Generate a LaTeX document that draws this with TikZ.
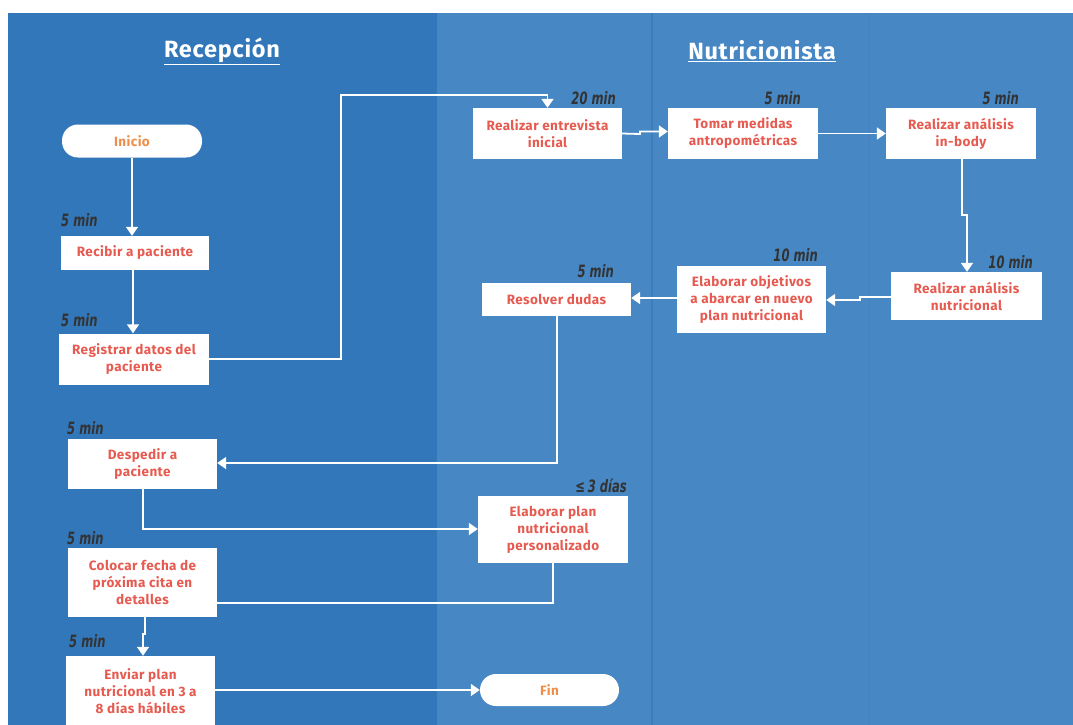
\documentclass[tikz,border=0pt]{standalone}
\usepackage{fontspec}
\setmainfont{Fira Sans}
\newfontfamily\nodefont[LetterSpace=3]{Fira Sans}
\newfontfamily\headfont[LetterSpace=3]{Fira Sans}
\newfontfamily\timefont[FakeStretch=0.68]{DejaVu Sans}
\usetikzlibrary{arrows.meta}
\definecolor{laneA}{HTML}{3277B9}
\definecolor{laneB}{HTML}{4687C4}
\definecolor{laneline}{HTML}{3C7DBC}
\definecolor{txtred}{HTML}{E65A50}
\definecolor{txtorange}{HTML}{EE8E48}
\definecolor{timegray}{HTML}{333333}
\tikzset{
  box/.style={draw=none, fill=white, rectangle, align=center, inner sep=2pt,
    font=\nodefont\fontsize{13.5}{17}\selectfont\bfseries, text=txtred},
  pill/.style={box, rounded corners=16pt, text=txtorange},
  conn/.style={draw=white, line width=1.8pt, -{Triangle[width=12pt,length=9pt]}},
  plainconn/.style={draw=white, line width=1.8pt},
  timeE/.style={anchor=east, inner sep=0pt, text=timegray, font=\timefont\fontsize{17}{17}\selectfont\bfseries\itshape},
  timeW/.style={timeE, anchor=west},
  lanehead/.style={text=white, font=\headfont\fontsize{23.5}{26}\selectfont\bfseries}
}
\begin{document}
\begin{tikzpicture}[x=1pt, y=-1pt]
\useasboundingbox (0,0) rectangle (1073,725);
\fill[white] (0,0) rectangle (1073,725);
\fill[laneA] (8,13) rectangle (437,725);
\fill[laneB] (437,13) rectangle (1073,725);
\draw[laneline, line width=1.2pt] (652,13) -- (652,725);
\draw[laneB!92!black, line width=0.6pt, opacity=0.35] (869,13) -- (869,725);

% headers
\node[lanehead] (hrec) at (222,51) {\underline{Recepción}};
\node[lanehead] (hnut) at (762,51) {\underline{Nutricionista}};

% nodes
\node[pill, minimum width=140pt, minimum height=33pt] (inicio) at (132,141) {Inicio};
\node[box, minimum width=148pt, minimum height=34pt] (recibir) at (135,253) {Recibir a paciente};
\node[box, minimum width=150pt, minimum height=51pt] (registrar) at (134,359) {Registrar datos del\\paciente};
\node[box, minimum width=149pt, minimum height=51pt] (entrevista) at (547.5,133.5) {Realizar entrevista\\inicial};
\node[box, minimum width=150pt, minimum height=51pt] (tomar) at (743,133.5) {Tomar medidas\\antropométricas};
\node[box, minimum width=150pt, minimum height=51pt] (inbody) at (961,133.5) {Realizar análisis\\in-body};
\node[box, minimum width=151pt, minimum height=48pt] (nutricional) at (966.5,296) {Realizar análisis\\nutricional};
\node[box, minimum width=149pt, minimum height=67pt] (objetivos) at (751.5,299.5) {Elaborar objetivos\\a abarcar en nuevo\\plan nutricional};
\node[box, minimum width=149pt, minimum height=33pt] (dudas) at (556.5,299.5) {Resolver dudas};
\node[box, minimum width=149pt, minimum height=50pt] (despedir) at (142.5,464) {Despedir a\\paciente};
\node[box, minimum width=150pt, minimum height=67pt] (plan) at (553,529.5) {Elaborar plan\\nutricional\\personalizado};
\node[box, minimum width=149pt, minimum height=69pt] (colocar) at (142.5,582.5) {Colocar fecha de\\próxima cita en\\detalles};
\node[box, minimum width=149pt, minimum height=70pt] (enviar) at (140.5,691) {Enviar plan\\nutricional en 3 a\\8 días hábiles};
\node[pill, minimum width=139pt, minimum height=32pt] (fin) at (549.5,690) {Fin};

% time labels
\node[timeW] (t1) at (61,220) {5 min};
\node[timeW] (t2) at (61,320) {5 min};
\node[timeW] (t3) at (67,428) {5 min};
\node[timeW] (t4) at (67,538) {5 min};
\node[timeW] (t5) at (69,641) {5 min};
\node[timeE] (t6) at (616,98) {20 min};
\node[timeE] (t7) at (801,98) {5 min};
\node[timeE] (t8) at (1019,98) {5 min};
\node[timeE] (t9) at (1033,262) {10 min};
\node[timeE] (t10) at (818,255) {10 min};
\node[timeE] (t11) at (614,271) {5 min};
\node[timeE] (t12) at (627,486) {≤\,3 días};

% connectors
\draw[conn] (inicio.south) -- (recibir.north -| inicio.south);
\draw[conn] (recibir.south -| 133,0) -- (registrar.north -| 133,0);
\draw[conn] (registrar.east) -- (341,359) -- (341,95) -| (entrevista.north);
\draw[conn] (entrevista.east) -- (640,134) -- (640,131.5) -- (tomar.west |- 0,131.5);
\draw[conn] (tomar.east) -- (inbody.west);
\draw[conn] (inbody.south -| 962,0) -- (962,215) -- (967,215) -- (nutricional.north -| 967,0);
\draw[conn] (nutricional.west |- 0,297) -- (860,297) -- (860,300) -- (objetivos.east |- 0,300);
\draw[conn] (objetivos.west |- 0,298) -- (dudas.east |- 0,298);
\draw[conn] (dudas.south -| 557,0) -- (557,463) -- (despedir.east |- 0,463);
\draw[conn] (despedir.south -| 143,0) -- (143,529) -- (plan.west |- 0,529);
\draw[plainconn] (plan.south) -- (553,603) -- (colocar.east |- 0,603);
\draw[conn] (colocar.south -| 145,0) -- (145,634) -- (143,634) -- (enviar.north -| 143,0);
\draw[conn] (enviar.east |- 0,690) -- (fin.west);
\end{tikzpicture}
\end{document}
